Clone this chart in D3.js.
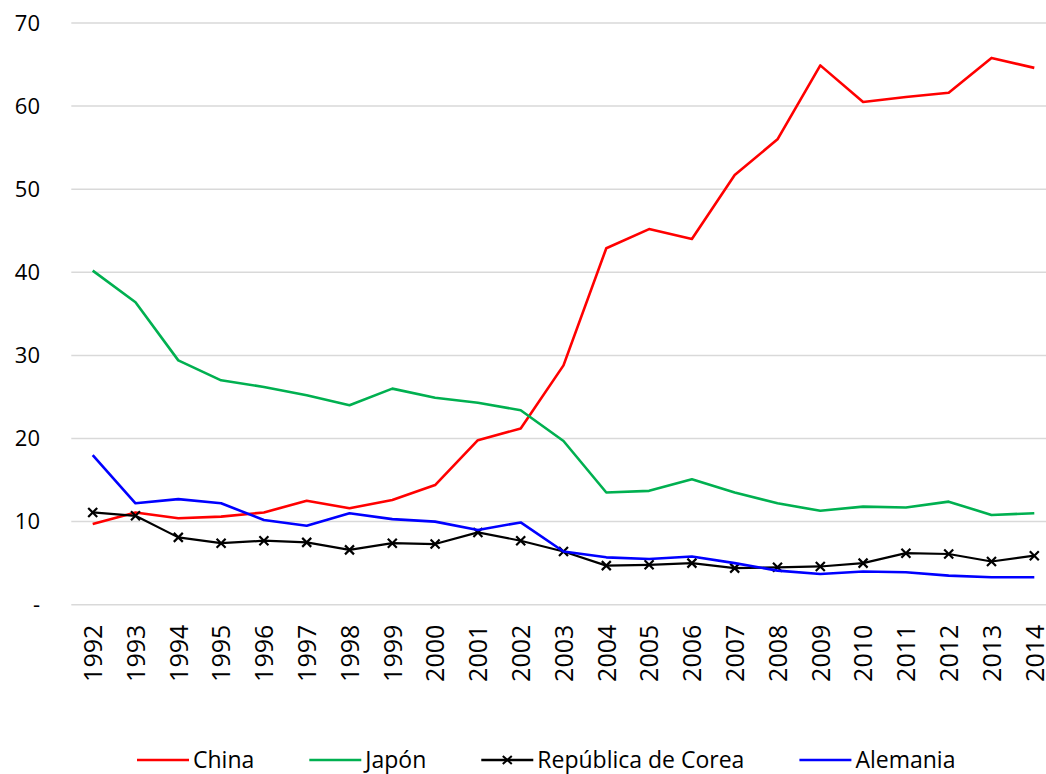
<!DOCTYPE html>
<html>
<head>
<meta charset="utf-8">
<script src="https://cdn.jsdelivr.net/npm/d3@7"></script>
<style>
  body { margin: 0; background: #fff; }
  svg { display: block; font-family: "Open Sans", sans-serif; }
</style>
</head>
<body>
<div id="chart"></div>
<script>
var years = ["1992","1993","1994","1995","1996","1997","1998","1999","2000","2001","2002",
             "2003","2004","2005","2006","2007","2008","2009","2010","2011","2012","2013","2014"];

var china    = [9.7, 11.1, 10.4, 10.6, 11.1, 12.5, 11.6, 12.6, 14.4, 19.8, 21.2,
                28.8, 42.9, 45.2, 44.0, 51.7, 56.0, 64.9, 60.5, 61.1, 61.6, 65.8, 64.6];
var japon    = [40.2, 36.4, 29.4, 27.0, 26.2, 25.2, 24.0, 26.0, 24.9, 24.3, 23.4,
                19.7, 13.5, 13.7, 15.1, 13.5, 12.2, 11.3, 11.8, 11.7, 12.4, 10.8, 11.0];
var corea    = [11.1, 10.7, 8.1, 7.4, 7.7, 7.5, 6.6, 7.4, 7.3, 8.7, 7.7,
                6.4, 4.7, 4.8, 5.0, 4.4, 4.5, 4.6, 5.0, 6.2, 6.1, 5.2, 5.9];
var alemania = [18.0, 12.2, 12.7, 12.2, 10.2, 9.5, 11.0, 10.3, 10.0, 9.0, 9.9,
                6.4, 5.7, 5.5, 5.8, 5.0, 4.1, 3.7, 4.0, 3.9, 3.5, 3.3, 3.3];

var yTicks = [0, 10, 20, 30, 40, 50, 60, 70];

var series = [
  { name: "China", values: china, color: "#ff0000", marker: false },
  { name: "Japón", values: japon, color: "#00b050", marker: false },
  { name: "República de Corea", values: corea, color: "#000000", marker: true },
  { name: "Alemania", values: alemania, color: "#0000ff", marker: false }
];

var W = 1046, H = 774;
var plotLeft = 71.3, plotRight = 1055.7, plotTop = 23, plotBottom = 604.7;

var svg = d3.select("#chart").append("svg")
    .attr("width", W)
    .attr("height", H);

var x = d3.scalePoint()
    .domain(years)
    .range([plotLeft, plotRight])
    .padding(0.5);

var y = d3.scaleLinear()
    .domain([0, 70])
    .range([plotBottom, plotTop]);

// gridlines
svg.append("g")
    .selectAll("line")
    .data(yTicks)
    .enter()
    .append("line")
    .attr("x1", plotLeft)
    .attr("x2", plotRight)
    .attr("y1", function(d) { return y(d); })
    .attr("y2", function(d) { return y(d); })
    .attr("stroke", "#d9d9d9")
    .attr("stroke-width", 1.5);

// y axis labels
var yAxis = svg.append("g")
    .attr("transform", "translate(40,0)")
    .call(d3.axisLeft(y).tickValues(yTicks).tickSize(0).tickPadding(0)
        .tickFormat(function(d) { return d === 0 ? "-" : d; }));
yAxis.select(".domain").remove();
yAxis.selectAll("text")
    .style("font-size", "22px")
    .style("font-family", "Open Sans, sans-serif")
    .attr("fill", "#000");

// x axis labels
var xAxis = svg.append("g")
    .attr("transform", "translate(0," + plotBottom + ")")
    .call(d3.axisBottom(x).tickSize(0).tickPadding(0));
xAxis.select(".domain").remove();
xAxis.selectAll("text")
    .attr("transform", "translate(0,20)rotate(-90)")
    .attr("dy", "0.35em")
    .attr("x", 0)
    .attr("y", 0)
    .style("text-anchor", "end")
    .style("font-size", "25px")
    .style("font-family", "Open Sans, sans-serif")
    .attr("fill", "#000");

// lines
var line = d3.line()
    .x(function(d, i) { return x(years[i]); })
    .y(function(d) { return y(d); });

series.forEach(function(s) {
    svg.append("path")
        .datum(s.values)
        .attr("d", line)
        .attr("fill", "none")
        .attr("stroke", s.color)
        .attr("stroke-width", s.marker ? 2.2 : 2.6)
        .attr("stroke-linejoin", "round");

    if (s.marker) {
        svg.append("g")
            .selectAll("path")
            .data(s.values)
            .enter()
            .append("path")
            .attr("transform", function(d, i) { return "translate(" + x(years[i]) + "," + y(d) + ")"; })
            .attr("d", "M-4.5,-4.5L4.5,4.5M-4.5,4.5L4.5,-4.5")
            .attr("stroke", s.color)
            .attr("stroke-width", 2.2);
    }
});

// legend
var legend = svg.append("g").attr("transform", "translate(0,760)");
var lx = 137;
series.forEach(function(s) {
    var item = legend.append("g").attr("transform", "translate(" + lx + ",0)");
    item.append("line")
        .attr("x1", 0).attr("x2", 52)
        .attr("y1", 0).attr("y2", 0)
        .attr("stroke", s.color)
        .attr("stroke-width", 2.6);
    if (s.marker) {
        item.append("path")
            .attr("d", "M21.5,-4L30.5,4M21.5,4L30.5,-4")
            .attr("stroke", s.color)
            .attr("stroke-width", 2);
    }
    var t = item.append("text")
        .attr("x", 56)
        .attr("y", 0)
        .attr("dy", "0.35em")
        .style("font-size", "23px")
        .style("font-family", "Open Sans, sans-serif")
        .attr("fill", "#000")
        .text(s.name);
    lx += 56 + t.node().getComputedTextLength() + 55;
});
</script>
</body>
</html>
